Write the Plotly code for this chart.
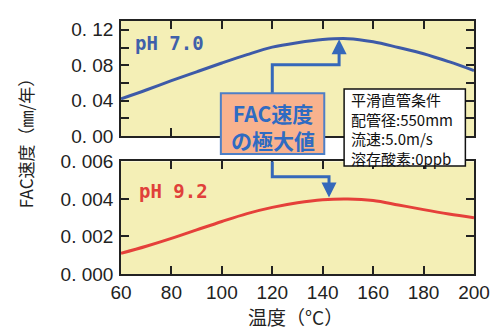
import plotly.graph_objects as go
from plotly.subplots import make_subplots

# Temperature (°C) and FAC rate (mm/year) for the two water chemistries
temperature = [60, 70, 80, 90, 100, 110, 120, 130, 140, 150, 160, 170, 180, 190, 200]
fac_ph70 = [0.042, 0.052, 0.0625, 0.0725, 0.0825, 0.092, 0.1005, 0.1055, 0.109, 0.110,
            0.1065, 0.100, 0.093, 0.084, 0.074]
fac_ph92 = [0.0011, 0.00148, 0.0019, 0.00235, 0.0028, 0.00322, 0.00355, 0.0038, 0.00396,
            0.0040, 0.00392, 0.00368, 0.00343, 0.0032, 0.0030]

x_ticks = [60, 80, 100, 120, 140, 160, 180, 200]
y1_ticks = [0.0, 0.02, 0.04, 0.06, 0.08, 0.10, 0.12]
y1_text = ["0. 00", "", "0. 04", "", "0. 08", "", "0. 12"]
y2_ticks = [0.0, 0.002, 0.004, 0.006]
y2_text = ["0. 000", "0. 002", "0. 004", "0. 006"]

condition_lines = ["平滑直管条件", "配管径:550mm", "流速:5.0m/s", "溶存酸素:0ppb"]

BLUE_LINE = "#3d5aa8"
RED_LINE = "#e5403a"
ARROW = "#3568ba"
PANEL_BG = "#f4efb6"
AXIS = "#222222"

fig = make_subplots(rows=2, cols=1, shared_xaxes=True, vertical_spacing=0.0)

fig.add_trace(go.Scatter(x=temperature, y=fac_ph70, mode="lines",
                         line=dict(color=BLUE_LINE, width=3, shape="spline", smoothing=1.0),
                         showlegend=False), row=1, col=1)
fig.add_trace(go.Scatter(x=temperature, y=fac_ph92, mode="lines",
                         line=dict(color=RED_LINE, width=3, shape="spline", smoothing=1.0),
                         showlegend=False), row=2, col=1)

axis_common = dict(showline=True, linecolor=AXIS, linewidth=1.5, mirror="ticks",
                   ticks="inside", ticklen=8, tickwidth=1.5, tickcolor=AXIS,
                   showgrid=False, zeroline=False,
                   tickfont=dict(family="Liberation Sans", size=19, color="#222"))

fig.update_xaxes(range=[60, 200], tickvals=x_ticks, **axis_common)
fig.update_yaxes(**axis_common)

fig.update_layout(
    width=501, height=333,
    margin=dict(l=121, r=24, t=11, b=59),
    paper_bgcolor="white", plot_bgcolor=PANEL_BG,
    xaxis=dict(domain=[0, 1]),
    yaxis=dict(domain=[0.5456, 1.0], range=[0, 0.13], tickvals=y1_ticks, ticktext=y1_text,
               ticklabelstandoff=2),
    xaxis2=dict(domain=[0, 1]),
    yaxis2=dict(domain=[0.0, 0.4449], range=[0, 0.006], tickvals=y2_ticks, ticktext=y2_text,
                ticklabelstandoff=2),
)

# Peak markers: elbow connectors from the label box to each curve's maximum
top_peak_y = max(fac_ph70)
bot_peak_y = max(fac_ph92)
box_x = 120
top_peak_x = 146.5
bot_peak_x = 142.5

line_style = dict(color=ARROW, width=3)
# upper connector: box top -> elbow -> peak of pH 7.0 curve
fig.add_shape(type="path", xref="x", yref="y",
              path=f"M {box_x},0.048 L {box_x},0.0805 L {top_peak_x},0.0805 L {top_peak_x},0.094",
              line=line_style)
fig.add_annotation(xref="x", yref="y", axref="x", ayref="y",
                   x=top_peak_x, y=top_peak_y - 0.0005, ax=top_peak_x, ay=0.094,
                   showarrow=True, arrowhead=2, arrowsize=1.0, arrowwidth=3,
                   arrowcolor=ARROW, text="")
# lower connector: box bottom -> elbow -> peak of pH 9.2 curve
fig.add_shape(type="path", xref="x2", yref="y2",
              path=f"M {box_x},0.0068 L {box_x},0.00518 L {bot_peak_x},0.00518 L {bot_peak_x},0.0047",
              line=line_style)
fig.add_annotation(xref="x2", yref="y2", axref="x2", ayref="y2",
                   x=bot_peak_x, y=bot_peak_y + 0.00008, ax=bot_peak_x, ay=0.0047,
                   showarrow=True, arrowhead=2, arrowsize=1.0, arrowwidth=3,
                   arrowcolor=ARROW, text="")

# label box for the FAC maximum
fig.add_shape(type="rect", xref="paper", yref="paper",
              x0=(221.7 - 121) / 356, x1=(326 - 121) / 356,
              y0=(274 - 149.3) / 263, y1=(274 - 86) / 263,
              fillcolor="#f8b28e", line=dict(color="#4d7fc6", width=2))
fig.add_annotation(xref="paper", yref="paper", x=(273.8 - 121) / 356, y=(274 - 120.5) / 263,
                   text="<b>FAC速度<br>の極大値</b>", showarrow=False,
                   xanchor="center", yanchor="middle", align="center",
                   font=dict(family="Noto Sans CJK JP", size=21, color="#2f6bc2"))

# pipe condition box
fig.add_shape(type="rect", xref="paper", yref="paper",
              x0=(346 - 121) / 356, x1=(468.3 - 121) / 356,
              y0=(274 - 161.7) / 263, y1=(274 - 81.7) / 263,
              fillcolor="white", line=dict(color="#111", width=1.5))
fig.add_annotation(xref="paper", yref="paper", x=(351 - 121) / 356, y=(274 - 123.5) / 263,
                   text="<br>".join(condition_lines), showarrow=False,
                   xanchor="left", yanchor="middle", align="left",
                   font=dict(family="Noto Sans CJK JP", size=15, color="#111"))

# series labels
fig.add_annotation(xref="paper", yref="paper", x=(133 - 121) / 356, y=(274 - 34) / 263,
                   text="<b>pH 7.0</b>", showarrow=False, xanchor="left", yanchor="middle",
                   font=dict(family="DejaVu Sans Mono", size=19, color="#3f60aa"))
fig.add_annotation(xref="paper", yref="paper", x=(137 - 121) / 356, y=(274 - 188) / 263,
                   text="<b>pH 9.2</b>", showarrow=False, xanchor="left", yanchor="middle",
                   font=dict(family="DejaVu Sans Mono", size=19, color="#e0403a"))

# axis titles
fig.add_annotation(xref="paper", yref="paper", x=(25 - 121) / 356, y=(274 - 134) / 263,
                   text="FAC速度（㎜/年）", textangle=-90, showarrow=False,
                   xanchor="center", yanchor="middle",
                   font=dict(family="Noto Sans CJK JP", size=17, color="#222"))
fig.add_annotation(xref="paper", yref="paper", x=(297 - 121) / 356, y=(274 - 318) / 263,
                   text="温度（°C）", showarrow=False, xanchor="center", yanchor="middle",
                   font=dict(family="Noto Sans CJK JP", size=19, color="#222"))

fig.write_html("out.html")
